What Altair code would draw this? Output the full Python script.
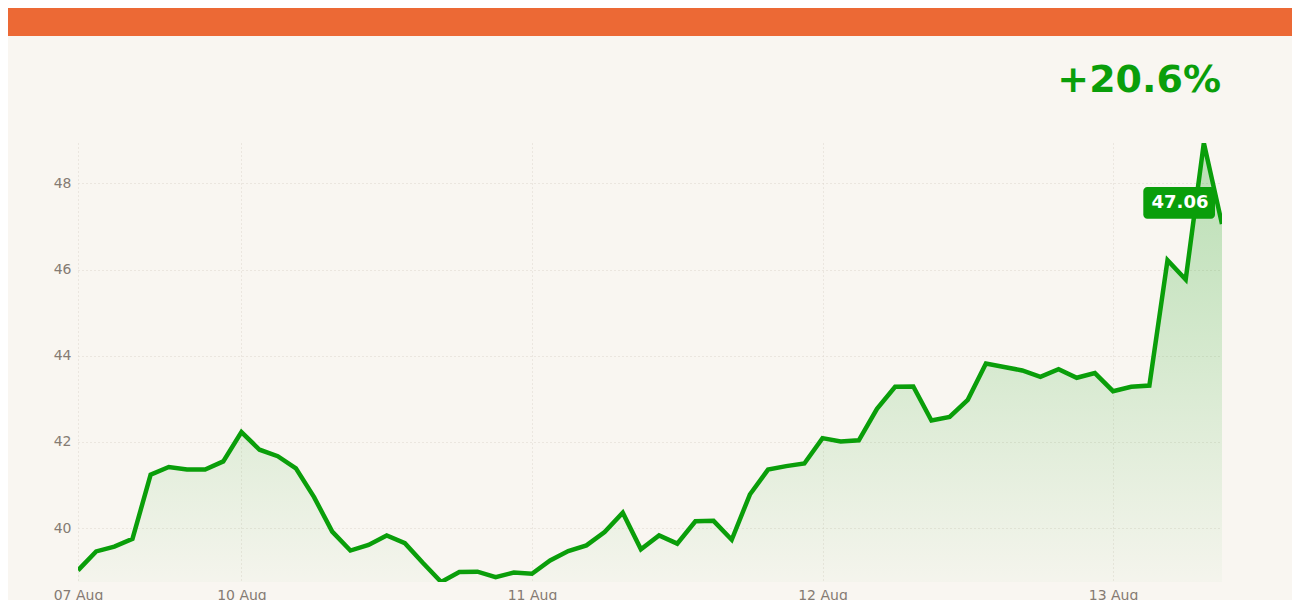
import altair as alt
import pandas as pd

# ---- data ----
values = [
    39.02, 39.46, 39.57, 39.75, 41.24, 41.42, 41.36, 41.36, 41.55, 42.23,
    41.82, 41.67, 41.39, 40.72, 39.92, 39.48, 39.61, 39.83, 39.65, 39.19,
    38.75, 38.98, 38.99, 38.86, 38.97, 38.94, 39.25, 39.47, 39.60, 39.91,
    40.36, 39.51, 39.83, 39.64, 40.16, 40.17, 39.73, 40.78, 41.36, 41.44,
    41.50, 42.09, 42.01, 42.04, 42.77, 43.28, 43.29, 42.50, 42.58, 42.98,
    43.82, 43.74, 43.66, 43.51, 43.69, 43.49, 43.60, 43.18, 43.28, 43.31,
    46.22, 45.77, 48.94, 47.06,
]
tick_positions = [0, 9, 25, 41, 57]
tick_labels = ["07 Aug", "10 Aug", "11 Aug", "12 Aug", "13 Aug"]
y_ticks = [40, 42, 44, 46, 48]

GREEN = "#0a9e0a"
ORANGE = "#ec6935"
BG = "#f9f6f1"
LABEL = "#857b73"
GRID = "#dcd6cc"
FONT = "DejaVu Sans"

df = pd.DataFrame({"idx": list(range(len(values))), "value": values})
last = df.tail(1).copy()
last["label"] = last["value"].map(lambda v: f"{v:.2f}")
pct = (values[-1] / values[0] - 1) * 100
info = pd.DataFrame({"pct": [f"{pct:+.1f}%"]})

label_expr = " : ".join(
    f"datum.value == {p} ? '{l}'" for p, l in zip(tick_positions, tick_labels)
) + " : ''"

W, H = 1144, 439

x_enc = alt.X(
    "idx:Q",
    scale=alt.Scale(domain=[0, len(values) - 1], nice=False, zero=False),
    axis=alt.Axis(
        values=tick_positions, labelExpr=label_expr, title=None, domain=False,
        ticks=False, labelFlush=False, labelPadding=6, labelFont=FONT,
        labelFontSize=14, labelColor=LABEL, grid=True, gridColor=GRID,
        gridDash=[1, 3], gridWidth=1,
    ),
)
y_enc = alt.Y(
    "value:Q",
    stack=None,
    scale=alt.Scale(zero=False, nice=False),
    axis=alt.Axis(
        values=y_ticks, title=None, domain=False, ticks=False, labelPadding=7,
        labelFont=FONT, labelFontSize=14, labelColor=LABEL, grid=True,
        gridColor=GRID, gridDash=[1, 3], gridWidth=1,
    ),
)

base = alt.Chart(df)

area = base.mark_area(
    clip=True,
    color=alt.Gradient(
        gradient="linear",
        stops=[
            alt.GradientStop(color="rgba(10,158,10,0.27)", offset=0),
            alt.GradientStop(color="rgba(10,158,10,0.02)", offset=1),
        ],
        x1=1, x2=1, y1=0, y2=1,
    ),
).encode(x=x_enc, y=y_enc)

line = base.mark_line(clip=True, color=GREEN, strokeWidth=4.5).encode(
    x="idx:Q", y="value:Q"
)

box = alt.Chart(last).mark_rect(
    color=GREEN, cornerRadius=4,
    xOffset=-78.7, x2Offset=-7, yOffset=-36.9, y2Offset=-5.3,
).encode(x="idx:Q", x2="idx:Q", y="value:Q", y2="value:Q")

box_text = alt.Chart(last).mark_text(
    color="white", font=FONT, fontSize=18, fontWeight="bold",
    align="center", baseline="middle", dx=-42, dy=-21,
).encode(x="idx:Q", y="value:Q", text="label:N")

header = alt.Chart(info).mark_rect(color=ORANGE).encode(
    x=alt.value(-80), x2=alt.value(W + 90),
    y=alt.value(-145), y2=alt.value(-107),
)

pct_text = alt.Chart(info).mark_text(
    color=GREEN, font=FONT, fontSize=38, fontWeight="bold",
    align="right", baseline="alphabetic",
).encode(x=alt.value(W - 1), y=alt.value(-51), text="pct:N")

chart = (
    alt.layer(header, area, line, box, box_text, pct_text)
    .properties(
        width=W, height=H,
        autosize=alt.AutoSizeParams(type="none"),
        padding={"left": 70, "top": 135, "right": 70, "bottom": 18},
        background=BG,
    )
    .configure_view(stroke=None)
)

chart.save("out.html", embed_options={"renderer": "svg", "actions": False})
